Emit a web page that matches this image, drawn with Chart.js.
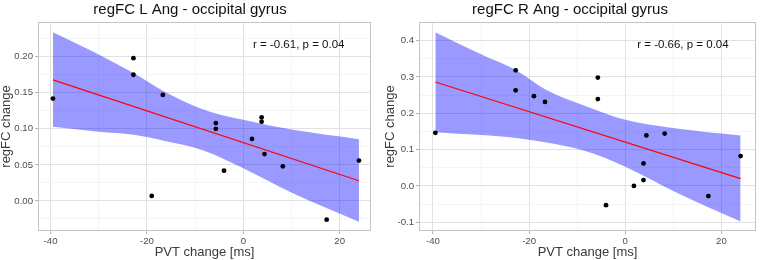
<!DOCTYPE html>
<html><head><meta charset="utf-8">
<script src="https://cdn.jsdelivr.net/npm/chart.js@4.4.1/dist/chart.umd.min.js"></script>
<style>
html,body{margin:0;padding:0;background:#fff;}
#wrap{display:flex;width:760px;height:260px;}
canvas{display:block;}
</style></head><body>
<div id="wrap"><canvas id="c1" width="380" height="260"></canvas><canvas id="c2" width="380" height="260"></canvas></div>
<script>
// ---- data ----
const pvtChange = [-39.5, -22.8, -22.8, -19.0, -16.7, -5.7, -5.7, -4.0, 1.8, 3.8, 3.8, 4.4, 8.2, 17.3, 24.0];
const leftRegFC  = [0.142, 0.198, 0.175, 0.007, 0.147, 0.108, 0.100, 0.042, 0.086, 0.116, 0.110, 0.065, 0.048, -0.026, 0.056];
const rightRegFC = [0.146, 0.318, 0.263, 0.247, 0.231, 0.298, 0.239, -0.053, 0.000, 0.062, 0.016, 0.139, 0.144, -0.028, 0.082];

const fitX = [-39.5, 24.0];
const leftFitY  = [0.168, 0.028];
const rightFitY = [0.286, 0.020];

const bandX = [-39.5, -30, -22.7, -16.7, -8.3, 0, 10.3, 24.0];
const leftUpper  = [0.234, 0.203, 0.177, 0.153, 0.127, 0.1125, 0.0986, 0.0857];
const leftLower  = [0.103, 0.096, 0.0917, 0.0838, 0.070, 0.0454, 0.0107, -0.0288];
const rightUpper = [0.423, 0.362, 0.318, 0.266, 0.220, 0.182, 0.159, 0.139];
const rightLower = [0.148, 0.140, 0.132, 0.120, 0.096, 0.053, -0.016, -0.098];

const xMajorTicks = [-40, -20, 0, 20];
const xMinorTicks = [-30, -10, 10];
const leftYMajor  = [0, 0.05, 0.10, 0.15, 0.20];
const leftYMinor  = [-0.025, 0.025, 0.075, 0.125, 0.175, 0.225];
const rightYMajor = [-0.1, 0, 0.1, 0.2, 0.3, 0.4];
const rightYMinor = [-0.05, 0.05, 0.15, 0.25, 0.35];

const titles = ["regFC L Ang - occipital gyrus", "regFC R Ang - occipital gyrus"];
const statsText = ["r = -0.61, p = 0.04", "r = -0.66, p = 0.04"];
const statsPos = [[11.5, 0.2167], [12.0, 0.388]];
const xTitle = "PVT change [ms]";
const yTitle = "regFC change";

// ---- helpers ----
const FONT = "'Liberation Sans', Arial, Helvetica, sans-serif";
Chart.defaults.font.family = FONT;
const pts = (xs, ys) => xs.map((x, i) => ({x, y: ys[i]}));
const near = (arr, v) => arr.some(a => Math.abs(a - v) < 1e-9);
const MAJOR = '#e2e2e2', MINOR = '#efefef', TICKC = '#b3b3b3';

const panelPlugin = {
  id: 'panelDeco',
  afterDatasetsDraw(chart) {
    const {ctx, chartArea: a} = chart;
    ctx.save();
    ctx.strokeStyle = '#c4c4c4';
    ctx.lineWidth = 1;
    ctx.strokeRect(Math.round(a.left) + 0.5, Math.round(a.top) + 0.5,
                   Math.round(a.right - a.left) - 1, Math.round(a.bottom - a.top) - 1);
    ctx.restore();
  },
  afterDraw(chart, args, opts) {
    const {ctx} = chart;
    ctx.save();
    ctx.fillStyle = '#111';
    ctx.font = '15px ' + FONT;
    ctx.textAlign = 'center';
    ctx.textBaseline = 'alphabetic';
    ctx.fillText(opts.title, opts.titleX, 13.5);
    ctx.font = '11.5px ' + FONT;
    ctx.textBaseline = 'middle';
    const sx = chart.scales.x.getPixelForValue(opts.stat[0]);
    const sy = chart.scales.y.getPixelForValue(opts.stat[1]);
    ctx.fillText(opts.statText, sx, sy);
    ctx.restore();
  }
};

function makePanel(canvas, p) {
  const yAll = p.yMajor.concat(p.yMinor).sort((a, b) => a - b);
  const xAll = xMajorTicks.concat(xMinorTicks).sort((a, b) => a - b);
  return new Chart(canvas, {
    type: 'scatter',
    data: {
      datasets: [
        { data: pts(pvtChange, p.y), pointRadius: 2.4, pointBackgroundColor: '#000',
          pointBorderWidth: 0, showLine: false },
        { data: pts(fitX, p.fit), showLine: true, pointRadius: 0, borderColor: '#ff0000',
          borderWidth: 1.2 },
        { data: pts(bandX, p.upper), showLine: true, pointRadius: 0, borderColor: 'rgba(0,0,0,0)',
          backgroundColor: 'rgba(0,0,255,0.4)', fill: '+1', tension: 0.4,
          cubicInterpolationMode: 'monotone' },
        { data: pts(bandX, p.lower), showLine: true, pointRadius: 0, borderColor: 'rgba(0,0,0,0)',
          fill: false, tension: 0.4, cubicInterpolationMode: 'monotone' }
      ]
    },
    options: {
      responsive: false, animation: false, events: [],
      layout: { padding: { top: 22, right: p.padRight, left: 0, bottom: 0 } },
      plugins: {
        legend: { display: false }, tooltip: { enabled: false },
        panelDeco: { title: p.title, titleX: 190, stat: p.stat, statText: p.statText }
      },
      scales: {
        x: {
          type: 'linear', min: p.xMin, max: p.xMax,
          afterBuildTicks: s => { s.ticks = xAll.map(v => ({value: v})); },
          afterFit: s => { s.height = 29; },
          ticks: { autoSkip: false, maxRotation: 0, padding: 2, color: '#4d4d4d',
                   font: { size: 9.6 },
                   callback: v => near(xMajorTicks, v) ? String(v) : '' },
          grid: {
            color: c => near(xMajorTicks, c.tick.value) ? MAJOR : MINOR,
            lineWidth: c => near(xMajorTicks, c.tick.value) ? 1 : 0.6,
            tickColor: c => near(xMajorTicks, c.tick.value) ? TICKC : 'rgba(0,0,0,0)',
            tickLength: 3
          },
          border: { display: false },
          title: { display: true, text: xTitle, color: '#3a3a3a', font: { size: 13 },
                   padding: { top: 0, bottom: 0 } }
        },
        y: {
          type: 'linear', min: p.yMin, max: p.yMax,
          afterBuildTicks: s => { s.ticks = yAll.map(v => ({value: v})); },
          afterFit: s => { s.width = p.yWidth; },
          ticks: { autoSkip: false, padding: 2, color: '#4d4d4d', font: { size: 9.6 },
                   callback: v => near(p.yMajor, v) ? v.toFixed(p.dec) : '' },
          grid: {
            color: c => near(p.yMajor, c.tick.value) ? MAJOR : MINOR,
            lineWidth: c => near(p.yMajor, c.tick.value) ? 1 : 0.6,
            tickColor: c => near(p.yMajor, c.tick.value) ? TICKC : 'rgba(0,0,0,0)',
            tickLength: 3
          },
          border: { display: false },
          title: { display: true, text: yTitle, color: '#3a3a3a', font: { size: 13 },
                   padding: { top: p.yTitlePad, bottom: 0 } }
        }
      }
    },
    plugins: [panelPlugin]
  });
}

makePanel(document.getElementById('c1'), {
  y: leftRegFC, fit: leftFitY, upper: leftUpper, lower: leftLower,
  yMajor: leftYMajor, yMinor: leftYMinor, dec: 2,
  xMin: -42.6, xMax: 26.5, yMin: -0.0417, yMax: 0.2482,
  yWidth: 38, padRight: 9, yTitlePad: -1.5,
  title: titles[0], stat: statsPos[0], statText: statsText[0]
});
makePanel(document.getElementById('c2'), {
  y: rightRegFC, fit: rightFitY, upper: rightUpper, lower: rightLower,
  yMajor: rightYMajor, yMinor: rightYMinor, dec: 1,
  xMin: -42.9, xMax: 27.2, yMin: -0.124, yMax: 0.451,
  yWidth: 39, padRight: 1, yTitlePad: 2.8,
  title: titles[1], stat: statsPos[1], statText: statsText[1]
});
</script>
</body></html>
